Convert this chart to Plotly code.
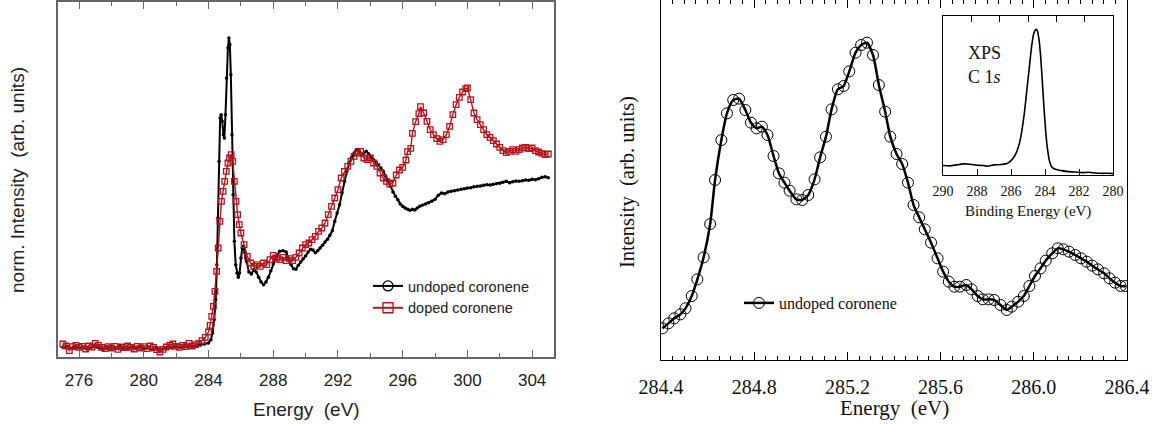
import plotly.graph_objects as go

# ---------------- Left panel: NEXAFS, undoped vs doped coronene ----------------
undoped_E = [275.0, 275.25, 275.5, 275.75, 276.0, 276.25, 276.5, 276.75, 277.0, 277.25,
             277.5, 277.75, 278.0, 278.25, 278.5, 278.75, 279.0, 279.25, 279.5, 279.75,
             280.0, 280.25, 280.5, 280.75, 281.0, 281.25, 281.5, 281.75, 282.0, 282.25,
             282.5, 282.75, 283.0, 283.25, 283.5, 283.75, 284.0, 284.15, 284.25, 284.35,
             284.45, 284.52, 284.58, 284.65, 284.72, 284.78, 284.85, 284.92, 284.98, 285.05,
             285.12, 285.2, 285.26, 285.32, 285.38, 285.45, 285.52, 285.6, 285.68, 285.76,
             285.84, 285.92, 286.0, 286.08, 286.15, 286.25, 286.35, 286.5, 286.65, 286.8,
             286.95, 287.1, 287.25, 287.4, 287.55, 287.7, 287.85, 288.0, 288.2, 288.4,
             288.6, 288.8, 288.95, 289.1, 289.25, 289.4, 289.55, 289.7, 289.85, 290.0,
             290.15, 290.3, 290.45, 290.6, 290.75, 290.9, 291.05, 291.2, 291.35, 291.5,
             291.65, 291.8, 291.95, 292.1, 292.25, 292.4, 292.55, 292.7, 292.85, 293.0,
             293.15, 293.3, 293.45, 293.6, 293.75, 293.9, 294.05, 294.2, 294.35, 294.5,
             294.65, 294.8, 294.95, 295.1, 295.25, 295.4, 295.55, 295.7, 295.85, 296.0,
             296.15, 296.3, 296.45, 296.6, 296.75, 296.9, 297.05, 297.2, 297.4, 297.6,
             297.8, 298.0, 298.2, 298.4, 298.6, 298.8, 299.0, 299.2, 299.4, 299.6,
             299.8, 300.0, 300.2, 300.4, 300.6, 300.8, 301.0, 301.2, 301.4, 301.6,
             301.8, 302.0, 302.2, 302.4, 302.6, 302.8, 303.0, 303.2, 303.4, 303.6,
             303.8, 304.0, 304.2, 304.4, 304.6, 304.8, 305.0]
undoped_I = [2, 5, -1, 4, 0, 3, -3, 2, 5, 0,
             -4, 3, 1, -2, 6, 0, -3, 2, -1, 4,
             -2, 1, -5, 2, -6, -1, 3, 0, 4, 2,
             6, 3, 5, 8, 10, 12, 15, 25, 45, 85,
             145, 250, 390, 560, 690, 700, 680, 640, 630, 700,
             810, 900, 930, 910, 820, 640, 460, 320, 250, 225,
             212, 225, 270, 300, 305, 285, 260, 228, 222, 235,
             228, 212, 198, 190, 198, 212, 232, 252, 275, 290,
             292, 288, 268, 250, 238, 236, 248, 258, 268, 276,
             288, 296, 294, 286, 292, 300, 308, 318, 326, 338,
             352, 380, 405, 430, 465, 500, 530, 555, 572, 585,
             595, 592, 578, 585, 590, 582, 572, 565, 558, 550,
             540, 530, 515, 500, 485, 468, 455, 445, 432, 425,
             420, 416, 413, 416, 414, 420, 425, 428, 432, 436,
             440, 446, 458, 465, 463, 468, 470, 472, 474, 476,
             478, 480, 481, 484, 485, 486, 488, 490, 489, 491,
             493, 494, 497, 500, 496, 499, 501, 500, 502, 504,
             503, 506, 505, 508, 512, 514, 511]

doped_E = [275.0, 275.2, 275.4, 275.6, 275.8, 276.0, 276.2, 276.4, 276.6, 276.8,
           277.0, 277.2, 277.4, 277.6, 277.8, 278.0, 278.2, 278.4, 278.6, 278.8,
           279.0, 279.2, 279.4, 279.6, 279.8, 280.0, 280.2, 280.4, 280.6, 280.8,
           281.0, 281.2, 281.4, 281.6, 281.8, 282.0, 282.2, 282.4, 282.6, 282.8,
           283.0, 283.2, 283.4, 283.6, 283.8, 284.0, 284.1, 284.2, 284.3, 284.4,
           284.5, 284.6, 284.7, 284.8, 284.9, 285.0, 285.1, 285.2, 285.3, 285.4,
           285.5, 285.6, 285.7, 285.8, 285.9, 286.0, 286.2, 286.4, 286.6, 286.8,
           287.0, 287.2, 287.4, 287.6, 287.8, 288.0, 288.2, 288.4, 288.6, 288.8,
           289.0, 289.2, 289.4, 289.6, 289.8, 290.0, 290.2, 290.4, 290.6, 290.8,
           291.0, 291.2, 291.4, 291.6, 291.8, 292.0, 292.2, 292.4, 292.6, 292.8,
           293.0, 293.2, 293.4, 293.6, 293.8, 294.0, 294.2, 294.4, 294.6, 294.8,
           295.0, 295.2, 295.4, 295.6, 295.8, 296.0, 296.2, 296.3, 296.5, 296.6,
           296.8, 297.0, 297.1, 297.3, 297.5, 297.7, 297.9, 298.1, 298.3, 298.5,
           298.7, 298.9, 299.1, 299.3, 299.5, 299.7, 299.9, 300.0, 300.2, 300.4,
           300.6, 300.8, 301.0, 301.2, 301.4, 301.6, 301.8, 302.0, 302.2, 302.4,
           302.6, 302.8, 303.0, 303.2, 303.4, 303.6, 303.8, 304.0, 304.2, 304.4,
           304.6, 304.8, 305.0]
doped_I = [12, 6, -8, 4, 8, 2, 5, -3, 6, 3,
           14, 8, 2, -2, 4, 0, 5, -4, 3, 1,
           6, 2, -3, 5, 0, 4, -2, 6, 2, -5,
           -12, -4, 3, 8, 12, 5, 2, 8, 4, 14,
           6, 10, 14, 22, 32, 48, 68, 95, 125, 170,
           230, 300, 380, 440, 470, 500, 530, 555, 570, 580,
           560, 500, 440, 400, 370, 345, 310, 275, 255, 245,
           250, 245, 255, 250, 265, 278, 270, 265, 272, 262,
           268, 262, 272, 285, 300, 310, 315, 325, 335, 350,
           360, 375, 400, 425, 450, 475, 510, 530, 545, 560,
           575, 585, 590, 570, 565, 570, 555, 545, 525, 510,
           500, 492, 495, 519, 534, 542, 564, 589, 599, 644,
           679, 703, 724, 705, 680, 655, 640, 628, 620, 625,
           640, 665, 700, 730, 752, 768, 778, 780, 745, 705,
           685, 670, 655, 640, 632, 622, 612, 602, 592, 586,
           590, 595, 590, 595, 600, 602, 598, 600, 592, 588,
           584, 580, 582]

# ---------------- Right panel: high-resolution pi* region ----------------
hr_E = [284.406, 284.432, 284.457, 284.483, 284.505, 284.532, 284.556, 284.583, 284.611, 284.632,
        284.659, 284.683, 284.710, 284.735, 284.762, 284.786, 284.810, 284.833, 284.857, 284.883,
        284.906, 284.930, 284.952, 284.981, 285.006, 285.032, 285.059, 285.083, 285.108, 285.132,
        285.159, 285.184, 285.208, 285.235, 285.259, 285.284, 285.310, 285.335, 285.362, 285.384,
        285.411, 285.435, 285.460, 285.484, 285.508, 285.532, 285.559, 285.587, 285.611, 285.635,
        285.659, 285.683, 285.710, 285.733, 285.759, 285.781, 285.806, 285.830, 285.857, 285.884,
        285.905, 285.933, 285.957, 285.981, 286.005, 286.029, 286.051, 286.079, 286.103, 286.127,
        286.151, 286.178, 286.203, 286.227, 286.251, 286.275, 286.302, 286.325, 286.349, 286.373,
        286.394]
hr_I = [95, 110, 125, 137, 155, 192, 242, 308, 408, 540,
        660, 740, 780, 784, 750, 712, 695, 700, 675, 612,
        560, 532, 508, 482, 480, 495, 542, 608, 670, 752,
        812, 822, 866, 922, 945, 952, 915, 825, 745, 670,
        618, 588, 532, 465, 428, 392, 352, 305, 265, 235,
        220, 220, 225, 212, 192, 182, 182, 180, 165, 150,
        160, 175, 192, 222, 252, 275, 298, 320, 335, 332,
        325, 315, 305, 295, 283, 272, 260, 245, 232, 222,
        222]

# ---------------- Inset: XPS C 1s ----------------
xps_BE = [290.0, 289.6, 289.2, 288.8, 288.4, 288.0, 287.6, 287.4, 287.0, 286.6,
          286.3, 286.1, 285.9, 285.7, 285.5, 285.35, 285.2, 285.05, 284.9, 284.78,
          284.66, 284.54, 284.46, 284.36, 284.26, 284.16, 284.06, 283.96, 283.86, 283.74,
          283.59, 283.39, 283.03, 282.63, 282.23, 281.83, 281.43, 281.04, 280.64, 280.24,
          280.0]
xps_I = [28, 27, 30, 33, 32, 29, 28, 26, 30, 31,
         33, 38, 48, 65, 95, 135, 190, 260, 330, 385,
         420, 432, 430, 405, 355, 280, 200, 130, 80, 42,
         23, 17, 13, 10, 9, 7, 8, 6, 5, 5,
         4]

left_ticks = [276, 280, 284, 288, 292, 296, 300, 304]
right_ticks = [284.4, 284.8, 285.2, 285.6, 286.0, 286.4]
inset_ticks = [290, 288, 286, 284, 282, 280]

RED = "#b0161c"
SANS = "Liberation Sans"
SERIF = "Liberation Serif"
W, H = 1152, 425


def px(x):
    return x / W


def py(y):
    return 1 - y / H


fig = go.Figure()

# left panel traces
fig.add_trace(go.Scatter(x=undoped_E, y=undoped_I, mode="lines+markers",
                         line=dict(color="black", width=2),
                         marker=dict(symbol="circle", size=3.5, color="black"),
                         showlegend=False, xaxis="x", yaxis="y"))
fig.add_trace(go.Scatter(x=doped_E, y=doped_I, mode="lines+markers",
                         line=dict(color=RED, width=1.4),
                         marker=dict(symbol="square-open", size=5.5, color=RED, line=dict(width=1.3)),
                         showlegend=False, xaxis="x", yaxis="y"))
# left legend entries
fig.add_trace(go.Scatter(x=[None], y=[None], mode="lines+markers", name="undoped coronene",
                         line=dict(color="black", width=2),
                         marker=dict(symbol="circle-open", size=10, color="black", line=dict(width=1.3)),
                         legend="legend", xaxis="x", yaxis="y"))
fig.add_trace(go.Scatter(x=[None], y=[None], mode="lines+markers", name="doped coronene",
                         line=dict(color=RED, width=2),
                         marker=dict(symbol="square-open", size=10, color=RED, line=dict(width=1.3)),
                         legend="legend", xaxis="x", yaxis="y"))

# right panel trace
fig.add_trace(go.Scatter(x=hr_E, y=hr_I, mode="lines+markers", name="undoped coronene",
                         line=dict(color="black", width=2.5, shape="spline", smoothing=0.6),
                         marker=dict(symbol="circle-open", size=11, color="black", line=dict(width=1)),
                         legend="legend2", xaxis="x2", yaxis="y2"))

# inset trace
fig.add_trace(go.Scatter(x=xps_BE, y=xps_I, mode="lines",
                         line=dict(color="black", width=1.6, shape="spline", smoothing=0.5),
                         showlegend=False, xaxis="x3", yaxis="y3"))

left_axis_color = "#666666"
fig.update_layout(
    width=W, height=H,
    margin=dict(l=0, r=0, t=0, b=0, pad=0, autoexpand=False),
    paper_bgcolor="white", plot_bgcolor="rgba(0,0,0,0)",
    xaxis=dict(domain=[px(58), px(554)], range=[274.7, 305.35], anchor="y", automargin=False,
               tickmode="array", tickvals=left_ticks, ticks="inside", ticklen=7, tickwidth=1.3,
               tickcolor=left_axis_color,
               minor=dict(dtick=2, tick0=276, ticks="inside", ticklen=4, tickwidth=1.3,
                          tickcolor=left_axis_color),
               showline=True, linecolor=left_axis_color, linewidth=1.6, mirror="ticks",
               showgrid=False, zeroline=False,
               tickfont=dict(family=SANS, size=17, color="#222222"), ticklabelstandoff=7),
    yaxis=dict(domain=[py(357), py(2)], range=[-27, 1038], anchor="x", automargin=False,
               showticklabels=False, ticks="", showline=True, linecolor=left_axis_color,
               linewidth=1.6, mirror=True, showgrid=False, zeroline=False),
    xaxis2=dict(domain=[px(661), px(1127)], range=[284.4, 286.4], anchor="y2", automargin=False,
                tickmode="array", tickvals=right_ticks, ticktext=[f"{t:.1f}" for t in right_ticks],
                ticks="inside", ticklen=8, tickwidth=1, tickcolor="black",
                minor=dict(dtick=0.05, tick0=284.4, ticks="inside", ticklen=4, tickwidth=1,
                           tickcolor="black"),
                showline=True, linecolor="black", linewidth=1.2, mirror="ticks",
                showgrid=False, zeroline=False,
                tickfont=dict(family=SERIF, size=20, color="#111111"), ticklabelstandoff=9),
    yaxis2=dict(domain=[py(360), py(0)], range=[0, 1080], anchor="x2", automargin=False,
                showticklabels=False, ticks="", showline=True, linecolor="black",
                linewidth=1.2, mirror=True, showgrid=False, zeroline=False),
    xaxis3=dict(domain=[px(943), px(1113)], range=[290, 280], anchor="y3", automargin=False,
                tickmode="array", tickvals=inset_ticks, ticks="inside", ticklen=6, tickwidth=1,
                tickcolor="black",
                showline=True, linecolor="black", linewidth=1.2, mirror=True,
                showgrid=False, zeroline=False,
                tickfont=dict(family=SERIF, size=14, color="#111111"), ticklabelstandoff=3),
    xaxis4=dict(overlaying="x3", side="top", anchor="y3", range=[0, 6], dtick=1, tick0=0,
                automargin=False,
                ticks="inside", ticklen=6, tickwidth=1, tickcolor="black",
                showticklabels=False, showline=False, showgrid=False, zeroline=False),
    yaxis3=dict(domain=[py(175), py(16)], range=[0, 472], anchor="x3", automargin=False,
                showticklabels=False, ticks="", showline=True, linecolor="black",
                linewidth=1.2, mirror=True, showgrid=False, zeroline=False),
    legend=dict(x=px(368), y=py(270), xanchor="left", yanchor="top",
                font=dict(family=SANS, size=14.5, color="#222222"),
                bgcolor="rgba(0,0,0,0)", tracegroupgap=0, itemwidth=30),
    legend2=dict(x=px(739), y=py(286), xanchor="left", yanchor="top",
                 font=dict(family=SERIF, size=16, color="#111111"),
                 bgcolor="rgba(0,0,0,0)", itemwidth=30),
)

# an invisible trace to activate xaxis4 (top ticks of the inset)
fig.add_trace(go.Scatter(x=[None], y=[None], xaxis="x4", yaxis="y3", showlegend=False,
                         hoverinfo="skip"))

annotations = [
    dict(text="Energy  (eV)", x=px(306), y=py(409), font=dict(family=SANS, size=19, color="#222222")),
    dict(text="norm. Intensity  (arb. units)", x=px(17), y=py(180), textangle=-90,
         font=dict(family=SANS, size=19, color="#222222")),
    dict(text="Energy  (eV)", x=px(894), y=py(408), font=dict(family=SERIF, size=21, color="#111111")),
    dict(text="Intensity  (arb. units)", x=px(627), y=py(182), textangle=-90,
         font=dict(family=SERIF, size=20.5, color="#111111")),
    dict(text="Binding Energy (eV)", x=px(1028), y=py(212), font=dict(family=SERIF, size=15, color="#111111")),
    dict(text="XPS", x=px(966), y=py(53), xanchor="left", font=dict(family=SERIF, size=18, color="#111111")),
    dict(text="C 1<i>s</i>", x=px(966), y=py(77), xanchor="left", font=dict(family=SERIF, size=18, color="#111111")),
]
for a in annotations:
    a.setdefault("xanchor", "center")
    fig.add_annotation(xref="paper", yref="paper", showarrow=False, yanchor="middle", **a)

# remove the browser's default page margin so the figure sits at the window's top-left corner
fig.write_html("out.html", config={"displayModeBar": False},
               post_script="document.body.style.margin='0px';")
